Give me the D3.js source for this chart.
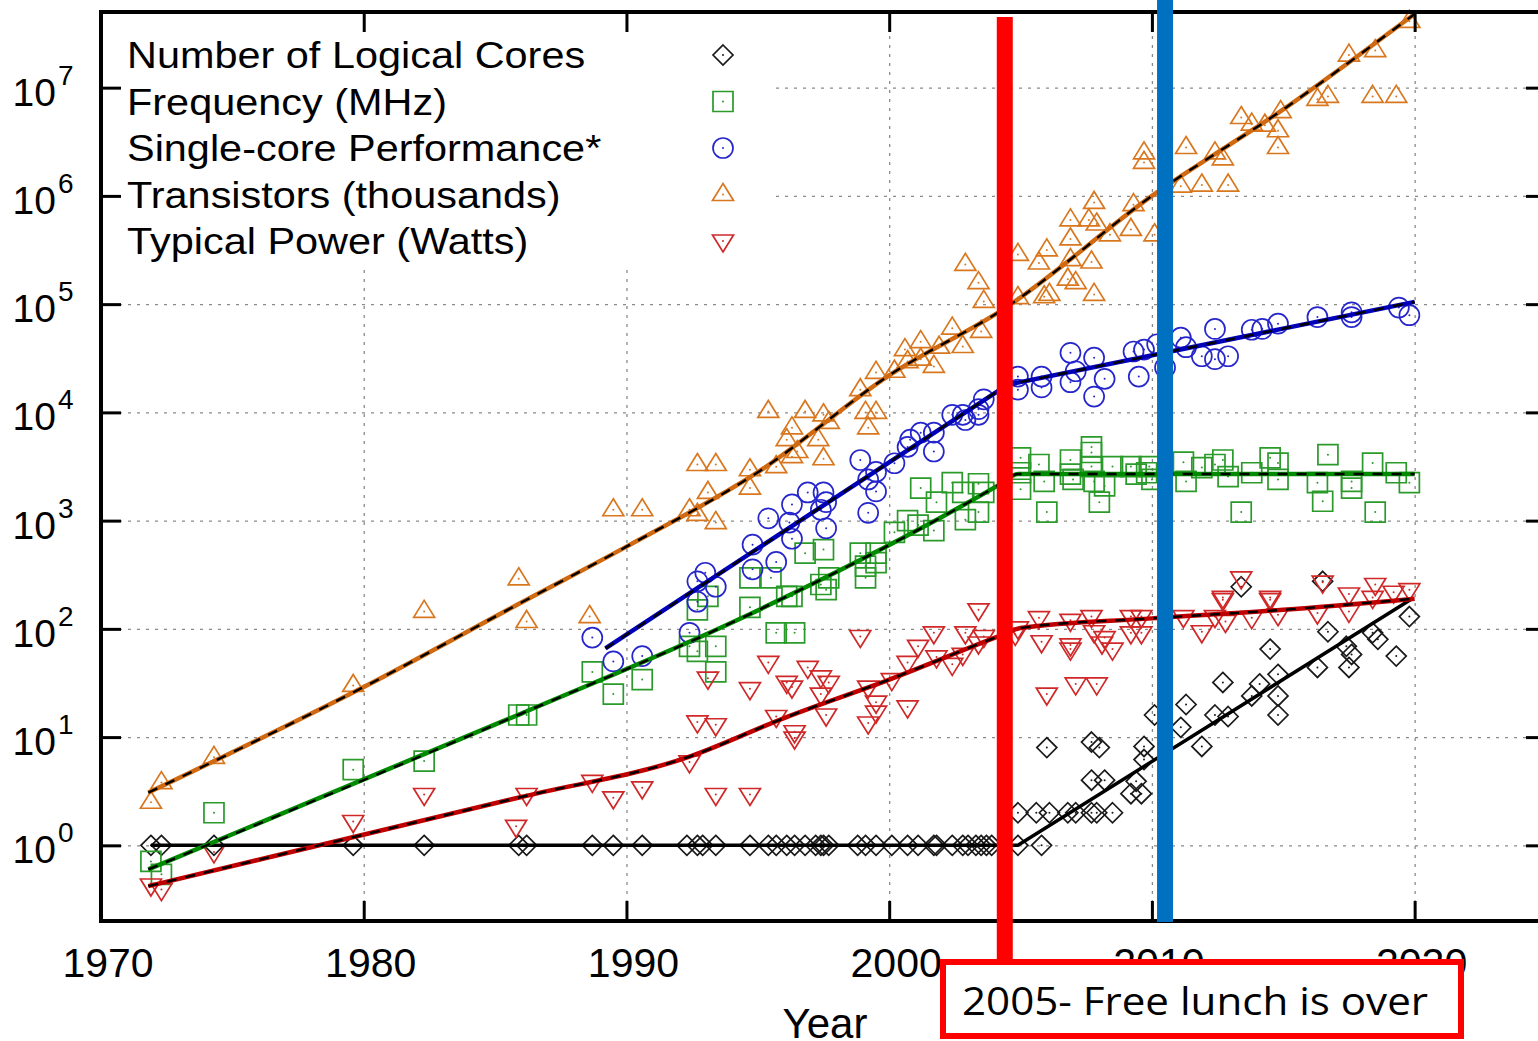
<!DOCTYPE html>
<html>
<head>
<meta charset="utf-8">
<script src="https://cdn.jsdelivr.net/npm/d3@7"></script>
<style>
html, body { margin: 0; padding: 0; background: #fff; }
svg { display: block; }
</style>
</head>
<body>
<svg id="chart" width="1538" height="1041"></svg>
<script>
// ---- data: [year, value] ----
var yearTicks = [1970, 1980, 1990, 2000, 2010, 2020];
var decadeTicks = [1, 10, 100, 1e3, 1e4, 1e5, 1e6, 1e7];

var seriesNames = ["Number of Logical Cores", "Frequency (MHz)", "Single-core Performance*",
    "Transistors (thousands)", "Typical Power (Watts)"];

var coreCounts = [
    [1971.9,1],[1972.3,1],[1974.3,1],[1979.6,1],[1982.3,1],[1985.9,1],[1986.2,1],[1988.7,1],[1989.5,1],
    [1990.6,1],[1992.3,1],[1992.7,1],[1992.9,1],[1993.4,1],[1994.7,1],[1995.4,1],[1995.7,1],[1996.1,1],
    [1996.4,1],[1996.8,1],[1997.2,1],[1997.4,1],[1997.5,1],[1997.7,1],[1998.8,1],[1999.1,1],[1999.5,1],
    [2000.1,1],[2000.7,1],[2001.1,1],[2001.7,1],[2001.8,1],[2002.4,1],[2002.8,1],[2003.0,1],[2003.3,1],
    [2003.5,1],[2003.7,1],[2003.9,1],[2004.9,1],[2005.8,1],
    [2004.9,2],[2005.6,2],[2006.1,2],[2006.0,8],[2006.8,2],[2007.1,2],[2007.7,4],[2008.2,4],[2007.7,9],
    [2008.0,8],[2007.7,2],[2007.9,2],[2008.5,2],[2009.2,3],[2009.4,3.9],[2009.6,3],[2009.7,8.2],[2009.7,6.2],
    [2010.1,16],[2011.1,12.3],[2011.3,20],[2011.9,8.2],[2012.4,16],[2012.7,32],[2012.9,15.5],[2013.8,24],
    [2014.1,31],[2014.5,65],[2014.8,38],[2014.8,24],[2014.8,16],[2013.4,245],[2016.5,275],[2016.3,44],
    [2016.7,94],[2017.4,69],[2017.6,58],[2017.5,44],[2018.4,92],[2018.6,80],[2019.3,56],[2019.8,130]
];
var frequency = [
    [1971.9,0.71],[1972.3,0.54],[1974.3,2.0],[1979.6,5.0],[1982.3,6.0],[1985.9,16],[1986.2,16],[1988.7,40],
    [1989.5,25],[1990.6,34],[1992.4,69],[1992.7,62],[1992.7,150],[1993.4,69],[1993.4,40],[1995.7,92],
    [1996.4,92],[1993.1,200],[1994.7,158],[1994.7,296],[1995.5,296],[1996.1,200],[1996.3,200],[1996.8,500],
    [1997.5,540],[1997.4,257],[1997.6,230],[1997.7,296],[1998.9,500],[1999.1,296],[1999.1,380],[1999.5,500],
    [1999.5,410],[2000.2,780],[2000.7,1000],[2001.1,910],[2001.7,810],[2001.2,2000],[2001.8,1480],
    [2002.4,2240],[2002.8,1820],[2002.9,1020],[2003.4,2190],[2003.6,1820],[2003.4,1200],
    [2005.0,3800],[2005.0,2770],[2005.0,1950],[2005.7,3300],[2005.9,2300],[2006.0,1200],[2006.9,3630],
    [2006.9,2690],[2007.0,2400],[2007.7,4800],[2007.7,4260],[2007.7,3160],[2007.8,2300],[2008.0,1480],
    [2008.2,2090],[2008.5,3160],[2009.2,3160],[2009.4,2690],[2009.8,2770],[2009.9,3160],[2010.0,2400],
    [2011.2,3470],[2011.3,2300],[2011.9,3090],[2012.4,3300],[2012.7,3630],[2012.9,2550],[2013.4,1200],
    [2013.8,2770],[2014.5,3800],[2014.8,3400],[2014.8,2400],[2016.3,2240],[2016.7,4070],[2016.5,1510],
    [2017.6,2300],[2017.6,2000],[2018.5,1200],[2018.4,3400],[2019.3,2770],[2019.8,2240]
];
var performance = [
    [1988.7,83],[1989.5,50],[1990.6,56],[1992.4,92],[1992.7,178],[1992.7,275],[1993.0,330],[1993.4,245],
    [1994.8,355],[1994.8,600],[1995.4,1050],[1995.7,415],[1996.3,680],[1996.2,960],[1996.3,1410],
    [1996.9,1820],[1997.5,1820],[1997.6,1480],[1997.4,1260],[1997.6,850],[1998.9,3630],[1999.2,2400],
    [1999.5,2820],[1999.5,1860],[1999.2,1180],[2000.2,3390],[2000.7,4800],[2000.8,5600],[2001.2,6500],
    [2001.7,6500],[2001.7,4350],[2002.4,9500],[2002.8,9500],[2002.9,8500],[2003.4,10700],[2003.6,13200],
    [2003.4,9500],
    [2004.9,21400],[2004.9,16200],[2005.8,17000],[2005.8,21400],[2006.9,35500],[2006.9,19000],[2007.1,24000],
    [2007.8,32000],[2007.8,14000],[2008.2,20400],[2009.3,36500],[2009.7,38000],[2009.5,21400],[2010.2,42600],
    [2010.5,26000],[2011.1,49000],[2011.3,40000],[2011.9,33000],[2012.4,59000],[2012.4,31000],[2012.9,33000],
    [2013.8,58000],[2014.2,59000],[2014.8,66000],[2016.3,76000],[2017.6,84000],[2017.6,76000],[2019.4,93000],
    [2019.8,79000]
];
var transistors = [
    [1971.9,2.5],[1972.3,3.8],[1974.3,6.5],[1979.6,30],[1982.3,145],[1985.9,290],[1986.2,117],[1988.6,130],
    [1989.5,1260],[1990.6,1260],[1992.4,1260],[1992.7,1140],[1993.4,960],[1993.1,1820],[1992.7,3300],
    [1993.4,3300],[1994.7,2950],[1994.7,2000],[1995.4,10200],[1995.7,3150],[1996.1,5600],[1996.3,7200],
    [1996.3,3900],[1996.5,4350],[1996.8,10200],[1997.3,5600],[1997.5,3730],[1997.5,9500],[1997.7,8100],
    [1998.9,16200],[1999.1,10000],[1999.5,10000],[1999.2,7200],[1999.5,23400],[2000.2,24000],[2000.6,38000],
    [2000.7,29500],[2001.2,45000],[2001.2,31000],[2001.7,26600],[2001.9,40000],[2002.4,60000],[2002.8,40600],
    [2003.5,56000],[2003.6,106000],[2002.9,233000],[2003.4,158000],
    [2004.9,288000],[2004.9,115000],[2006.0,317000],[2005.7,240000],[2005.9,117000],[2006.1,123000],
    [2006.9,600000],[2006.9,400000],[2006.9,258000],[2006.8,170000],[2007.1,158000],[2007.6,600000],
    [2007.8,870000],[2007.9,550000],[2008.4,437000],[2007.7,245000],[2007.8,123000],[2009.2,490000],
    [2009.3,830000],[2009.7,2.5e6],[2009.7,2.04e6],[2010.1,437000],[2011.3,2.8e6],[2011.1,1.23e6],
    [2011.9,1.26e6],[2012.9,1.26e6],[2012.4,2.5e6],[2012.7,2.2e6],[2013.4,5.3e6],[2013.8,4.6e6],[2014.3,4.5e6],
    [2014.9,6e6],[2014.8,4e6],[2014.8,2.8e6],[2016.3,7.8e6],[2016.7,8.3e6],[2017.5,2e7],[2018.5,2.2e7],
    [2018.4,8.3e6],[2019.3,8.3e6],[2019.8,4.1e7]
];
var power = [
    [1971.9,0.43],[1972.3,0.39],[1974.3,0.87],[1979.6,1.66],[1982.3,2.95],[1985.8,1.5],[1986.2,2.95],
    [1988.7,3.9],[1989.5,2.75],[1990.6,3.4],[1992.4,5.9],[1992.7,13.8],[1993.4,13],[1993.4,2.95],[1994.7,2.95],
    [1993.1,35],[1994.7,28],[1995.4,49],[1995.7,15.5],[1996.1,32],[1996.3,29],[1996.4,11.2],[1996.4,9.8],
    [1996.9,44],[1997.4,36],[1997.7,32],[1997.4,25],[1997.6,16],[1998.9,85],[1999.2,29],[1999.5,21],
    [1999.5,17],[1999.2,13.5],[2000.1,34],[2000.7,49],[2000.7,19],[2001.1,69],[2001.7,92],[2001.8,55],
    [2002.4,47],[2002.8,58],[2002.9,92],[2003.4,150],[2003.4,74],[2003.6,85],
    [2004.9,102],[2004.8,89],[2005.7,127],[2005.8,76],[2006.0,25],[2006.9,120],[2006.9,71],[2006.9,65],
    [2007.1,31],[2007.7,130],[2007.8,94],[2008.1,74],[2008.2,83],[2008.5,65],[2007.9,31],[2009.2,130],
    [2009.6,130],[2009.2,92],[2009.6,92],[2011.2,130],[2011.9,94],[2012.4,130],[2012.8,117],[2013.8,127],
    [2012.7,186],[2014.5,186],[2014.8,135],[2013.4,296],[2014.5,195],[2012.7,195],[2016.5,270],[2016.3,140],
    [2017.5,210],[2017.5,145],[2018.5,257],[2018.4,195],[2019.2,218],[2019.8,230]
];

// fitted trend lines
var coresTrend = [[1971.9,1],[2004.9,1],[2019.9,190]];
var freqTrend = [[1971.8,0.6],[1986,16.5],[1994.2,120],[2004.2,2150],[2004.9,2700],[2020,2700]];
var perfTrend = [[1989.2,66],[2004.5,18000],[2020,105000]];
var transTrend = [[1971.8,3.07],[1980,29],[1986,175],[1990,575],[1995,2800],[2000,22000],[2004.5,95000],
    [2010,1e6],[2015,6.3e6],[2020,4.8e7]];
var powerTrend = [[1971.8,0.42],[1986,2.8],[1992.4,6.6],[1996,15],[2000,34],[2004.3,88],[2005,102],
    [2010,125],[2015,150],[2020,190]];

// annotation years
var freeLunchYear = 2004.4;
var markerYear = 2010.5;

// ---- chart ----
var svg = d3.select("#chart");
var font = "'Liberation Sans', Arial, Helvetica, sans-serif";

var x = d3.scaleLinear().domain([1970, 2025]).range([101, 1546]);
var y = d3.scaleLog().domain([0.2, 5e7]).range([921, 12]);

var shapes = {
    diamond: "M0,-10L10,0L0,10L-10,0Z",
    square: "M-10,-10H10V10H-10Z",
    circle: "M10,0A10,10 0 1,1 -10,0A10,10 0 1,1 10,0Z",
    triUp: "M0,-11L10.5,6L-10.5,6Z",
    triDown: "M0,11L10.5,-6L-10.5,-6Z"
};

var series = [
    {name: seriesNames[0], data: coreCounts, trend: coresTrend, shape: "diamond", color: "#1a1a1a", line: "#000000", dashed: false, curve: d3.curveLinear},
    {name: seriesNames[1], data: frequency, trend: freqTrend, shape: "square", color: "#2a9a2a", line: "#008a00", dashed: true, curve: d3.curveMonotoneX},
    {name: seriesNames[2], data: performance, trend: perfTrend, shape: "circle", color: "#2626cc", line: "#0000b8", dashed: true, curve: d3.curveLinear},
    {name: seriesNames[3], data: transistors, trend: transTrend, shape: "triUp", color: "#d9771f", line: "#d06a12", dashed: true, curve: d3.curveMonotoneX},
    {name: seriesNames[4], data: power, trend: powerTrend, shape: "triDown", color: "#d02828", line: "#c00000", dashed: true, curve: d3.curveMonotoneX}
];

// grid
var gridV = svg.append("g").attr("transform", "translate(0,921)")
    .call(d3.axisBottom(x).tickValues(yearTicks.slice(1)).tickSize(-909).tickFormat(""));
var gridH = svg.append("g").attr("transform", "translate(101,0)")
    .call(d3.axisLeft(y).tickValues(decadeTicks).tickSize(-1445).tickFormat(""));
[gridV, gridH].forEach(function(g) {
    g.select(".domain").remove();
    g.selectAll("line").attr("stroke", "#8a8a8a").attr("stroke-width", 1.3).attr("stroke-dasharray", "3,6");
});

// legend background hides grid
svg.append("rect").attr("x", 104).attr("y", 15).attr("width", 666).attr("height", 252).attr("fill", "#fff");

// markers
series.forEach(function(s) {
    var g = svg.append("g");
    var pts = g.selectAll("g").data(s.data).enter().append("g")
        .attr("transform", function(d) { return "translate(" + x(d[0]) + "," + y(d[1]) + ")"; });
    pts.append("path").attr("d", shapes[s.shape])
        .attr("fill", "none").attr("stroke", s.color).attr("stroke-width", 1.7);
    pts.append("circle").attr("r", 1).attr("fill", s.color);
});

// trend lines
series.forEach(function(s) {
    var line = d3.line()
        .x(function(d) { return x(d[0]); })
        .y(function(d) { return y(d[1]); })
        .curve(s.curve);
    svg.append("path").datum(s.trend).attr("d", line)
        .attr("fill", "none").attr("stroke", s.line).attr("stroke-width", s.dashed ? 4.5 : 3.5);
    if (s.dashed) {
        svg.append("path").datum(s.trend).attr("d", line)
            .attr("fill", "none").attr("stroke", "#000").attr("stroke-width", 2.4)
            .attr("stroke-dasharray", "10,9");
    }
});

// legend
series.forEach(function(s, i) {
    var cy = 55 + i * 46.5;
    svg.append("text")
        .attr("transform", "translate(127," + (cy + 13) + ") scale(1.12,1)")
        .attr("font-family", font).attr("font-size", 37).attr("fill", "#000")
        .text(s.name);
    var m = svg.append("g").attr("transform", "translate(723," + cy + ")");
    m.append("path").attr("d", shapes[s.shape]).attr("fill", "none").attr("stroke", s.color).attr("stroke-width", 1.7);
    m.append("circle").attr("r", 1).attr("fill", s.color);
});

// frame and inward ticks
svg.append("rect").attr("x", 101).attr("y", 12).attr("width", 1445).attr("height", 909)
    .attr("fill", "none").attr("stroke", "#000").attr("stroke-width", 4);

var axes = [
    svg.append("g").attr("transform", "translate(0,921)").call(d3.axisTop(x).tickValues(yearTicks).tickSize(20).tickFormat("")),
    svg.append("g").attr("transform", "translate(0,12)").call(d3.axisBottom(x).tickValues(yearTicks).tickSize(20).tickFormat("")),
    svg.append("g").attr("transform", "translate(101,0)").call(d3.axisRight(y).tickValues(decadeTicks).tickSize(20).tickFormat("")),
    svg.append("g").attr("transform", "translate(1546,0)").call(d3.axisLeft(y).tickValues(decadeTicks).tickSize(20).tickFormat(""))
];
axes.forEach(function(g) {
    g.select(".domain").remove();
    g.selectAll("line").attr("stroke", "#000").attr("stroke-width", 3);
});

// tick labels
svg.append("g").selectAll("text").data(yearTicks).enter().append("text")
    .attr("x", function(d) { return x(d) + 7; }).attr("y", 977)
    .attr("text-anchor", "middle").attr("font-family", font).attr("font-size", 41)
    .text(function(d) { return d; });

var yl = svg.append("g").selectAll("g").data(decadeTicks).enter().append("g")
    .attr("transform", function(d) { return "translate(0," + y(d) + ")"; });
yl.append("text").attr("x", 56).attr("y", 18).attr("text-anchor", "end")
    .attr("font-family", font).attr("font-size", 39).text("10");
yl.append("text").attr("x", 58).attr("y", -3).attr("text-anchor", "start")
    .attr("font-family", font).attr("font-size", 28)
    .text(function(d) { return Math.round(Math.log10(d)); });

svg.append("text").attr("x", 825).attr("y", 1038).attr("text-anchor", "middle")
    .attr("font-family", font).attr("font-size", 42).text("Year");

// annotations
svg.append("rect").attr("x", x(markerYear) - 8).attr("y", 0).attr("width", 16).attr("height", 922)
    .attr("fill", "#0070c0");
svg.append("rect").attr("x", x(freeLunchYear) - 8).attr("y", 17).attr("width", 16).attr("height", 945)
    .attr("fill", "#ff0000");
svg.append("rect").attr("x", 943).attr("y", 962).attr("width", 518).attr("height", 74)
    .attr("fill", "#fff").attr("stroke", "#ff0000").attr("stroke-width", 6);
svg.append("text").attr("x", 962).attr("y", 1015)
    .attr("font-family", "'Open Sans', 'Noto Sans', sans-serif").attr("font-size", 38)
    .attr("textLength", 466).attr("lengthAdjust", "spacingAndGlyphs")
    .text("2005- Free lunch is over");
</script>
</body>
</html>
